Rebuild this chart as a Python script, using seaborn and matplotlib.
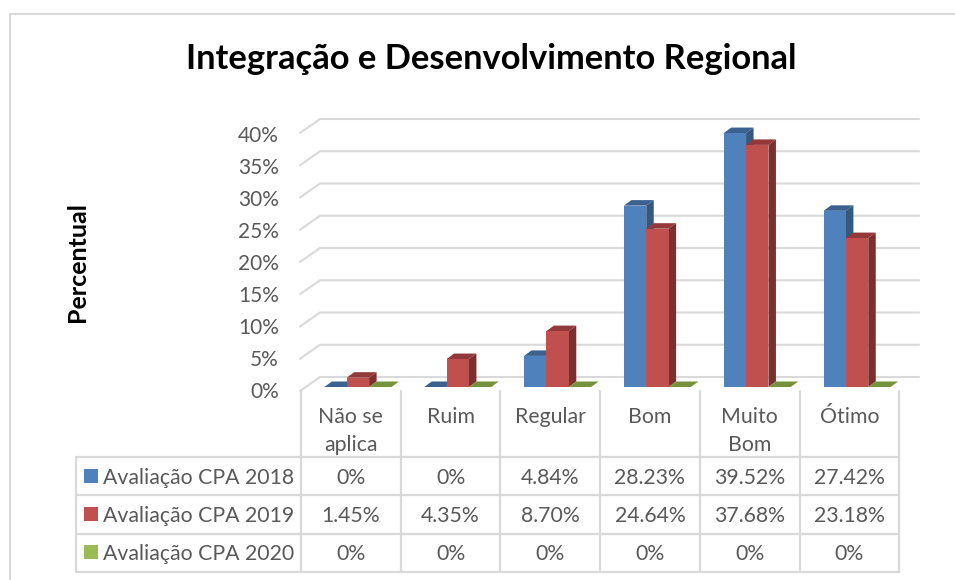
import numpy as np
import pandas as pd
import matplotlib
matplotlib.use('Agg')
import matplotlib.pyplot as plt
import seaborn as sns
from matplotlib.patches import Polygon

categorias = ['Não se\naplica', 'Ruim', 'Regular', 'Bom', 'Muito\nBom', 'Ótimo']
series = ['Avaliação CPA 2018', 'Avaliação CPA 2019', 'Avaliação CPA 2020']
cpa_2018 = [0, 0, 4.84, 28.23, 39.52, 27.42]
cpa_2019 = [1.45, 4.35, 8.70, 24.64, 37.68, 23.18]
cpa_2020 = [0, 0, 0, 0, 0, 0]
rot_2018 = ['0%', '0%', '4.84%', '28.23%', '39.52%', '27.42%']
rot_2019 = ['1.45%', '4.35%', '8.70%', '24.64%', '37.68%', '23.18%']
rot_2020 = ['0%', '0%', '0%', '0%', '0%', '0%']
ticks_y = [0, 5, 10, 15, 20, 25, 30, 35, 40]

cores = ['#4f81bd', '#c0504d', '#9bbb59']
cores_topo = ['#3a6190', '#93393a', '#76923c']
cores_lado = ['#35587f', '#7c2f2e', '#668032']
cinza = '#d9d9d9'
texto = '#595959'

sns.set_theme(style='white')
plt.rcParams['font.family'] = ['Lato', 'DejaVu Sans']

W, H = 955, 580
fig = plt.figure(figsize=(W / 100, H / 100), dpi=100, facecolor='white')

# camada em pixels para moldura, paredes e tabela
bg = fig.add_axes([0, 0, 1, 1], zorder=0)
bg.set_xlim(0, W)
bg.set_ylim(H, 0)
bg.axis('off')

# eixo das barras
x0, x1 = 308, 907
y_base, y_top = 387, 130
ax = fig.add_axes([x0 / W, 1 - y_base / H, (x1 - x0) / W, (y_base - y_top) / H], zorder=1)
ax.patch.set_alpha(0)

df = pd.DataFrame({'cat': categorias * 3,
                   'serie': np.repeat(series, len(categorias)),
                   'valor': cpa_2018 + cpa_2019 + cpa_2020})
sns.barplot(data=df, x='cat', y='valor', hue='serie', palette=cores, hue_order=series,
            width=0.672, gap=0, saturation=1, legend=False, ax=ax)
ax.set_xlim(-0.5, 5.5)
ax.set_ylim(0, 40)
ax.axis('off')

# profundidade 3D das barras
dx = 7.5 * 6 / (x1 - x0)
dy = 5.5 * 40 / (y_base - y_top)
for s, cont in enumerate(ax.containers):
    for b in cont:
        b.set_zorder(3 + 2 * s)
        b.set_edgecolor('none')
        xa, xb = b.get_x(), b.get_x() + b.get_width()
        h = b.get_height()
        ax.add_patch(Polygon([(xa, h), (xb, h), (xb + dx, h + dy), (xa + dx, h + dy)],
                             fc=cores_topo[s], ec='none', zorder=2 + 2 * s, clip_on=False))
        ax.add_patch(Polygon([(xb, 0), (xb + dx, dy), (xb + dx, h + dy), (xb, h)],
                             fc=cores_lado[s], ec='none', zorder=2 + 2 * s, clip_on=False))

# grade de fundo
for t in ticks_y:
    yy = 377 - t * 6.45
    bg.plot([300, 320, 919], [yy + 14, yy, yy], color=cinza, lw=1.5, solid_joinstyle='miter')
    bg.text(279, 392 - t * 6.4, f'{t}%', ha='right', va='center', fontsize=15, color=texto)

# moldura
bg.plot([955, 10, 10], [14, 14, 580], color=cinza, lw=1.5)

bg.text(491, 59, 'Integração e Desenvolvimento Regional', ha='center', va='center',
        fontsize=24.8, fontweight='bold', color='black')
bg.text(77, 262, 'Percentual', rotation=90, ha='center', va='center',
        fontsize=18, fontweight='bold', color='black')

# tabela de dados
col_x = [301 + i * 99.7 for i in range(7)]
lin_y = [457, 495, 533.5, 571.5]
for xx in col_x:
    bg.plot([xx, xx], [391, 571.5], color=cinza, lw=1.6)
for yy in lin_y:
    bg.plot([76, 899], [yy, yy], color=cinza, lw=1.6)
bg.plot([76, 76], [457, 571.5], color=cinza, lw=1.6)

for i, cat in enumerate(categorias):
    for j, parte in enumerate(cat.split('\n')):
        bg.text(col_x[i] + 49.8, 415 + 28 * j, parte, ha='center', va='center_baseline',
                fontsize=15.3, color=texto)

linhas = [rot_2018, rot_2019, rot_2020]
for r, (nome, rots) in enumerate(zip(series, linhas)):
    yc = (lin_y[r] + lin_y[r + 1]) / 2
    bg.add_patch(plt.Rectangle((84, yc - 7.5), 14, 14, fc=cores[r], ec='none'))
    bg.text(103, yc, nome, ha='left', va='center_baseline', fontsize=15.3, color=texto)
    for i, rot in enumerate(rots):
        bg.text(col_x[i] + 49.8, yc, rot, ha='center', va='center_baseline', fontsize=15.3, color=texto)

fig.savefig('out.png', dpi=100, facecolor='white')
